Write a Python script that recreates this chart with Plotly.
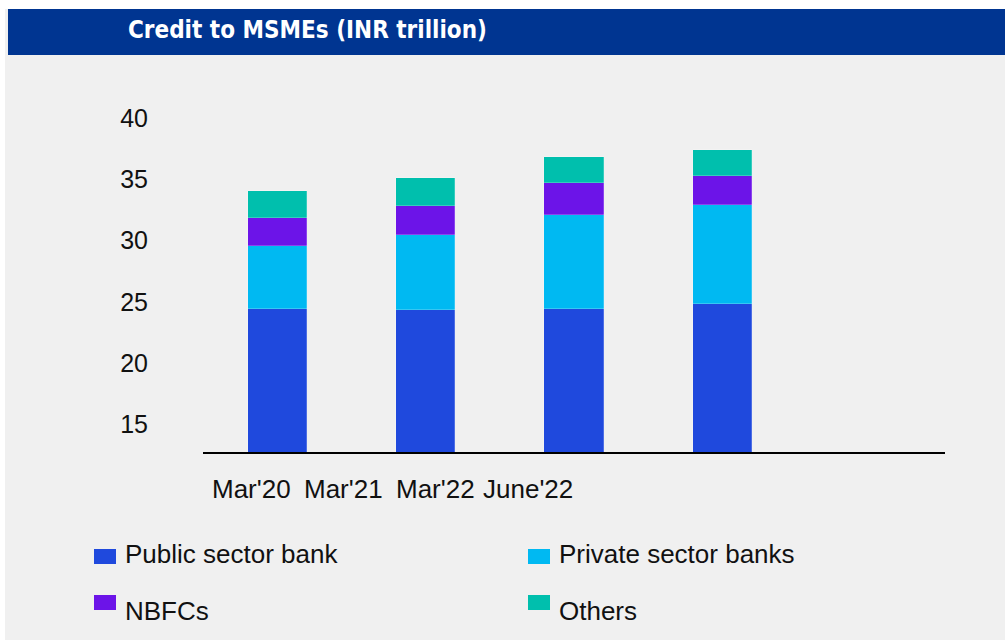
import plotly.graph_objects as go

# Credit to MSMEs by lender type, INR trillion
periods = ["Mar'20", "Mar'21", "Mar'22", "June'22"]
public_sector_bank = [24.4, 24.35, 24.4, 24.8]
private_sector_banks = [5.15, 6.1, 7.7, 8.1]
nbfcs = [2.3, 2.4, 2.65, 2.4]
others = [2.2, 2.26, 2.1, 2.1]

series = [
    ("Public sector bank", public_sector_bank, "#1f49dd"),
    ("Private sector banks", private_sector_banks, "#00b9f2"),
    ("NBFCs", nbfcs, "#6c14e8"),
    ("Others", others, "#00bfad"),
]
y_ticks = [15, 20, 25, 30, 35, 40]

W, H = 1005, 640
L, R, T, B = 203, 945, 100, 452
FONT = "Liberation Sans, Arial, sans-serif"


def px_x(px):
    return (px - L) / (R - L)


def px_y(py):
    return (B - py) / (B - T)


fig = go.Figure()
xpos = list(range(len(periods)))
for name, vals, color in series:
    fig.add_trace(go.Bar(
        x=xpos, y=vals, name=name, width=0.4,
        marker=dict(color=color, line=dict(color="rgba(255,255,255,0.35)", width=0.6)),
        showlegend=False,
    ))

shapes = [
    # page background strips and header band
    dict(type="rect", xref="paper", yref="paper", x0=px_x(0), x1=px_x(W), y0=px_y(0), y1=px_y(9),
         fillcolor="white", line=dict(width=0), layer="below"),
    dict(type="rect", xref="paper", yref="paper", x0=px_x(0), x1=px_x(5), y0=px_y(0), y1=px_y(H),
         fillcolor="white", line=dict(width=0), layer="below"),
    dict(type="rect", xref="paper", yref="paper", x0=px_x(8), x1=px_x(W), y0=px_y(9), y1=px_y(55),
         fillcolor="#003591", line=dict(width=0), layer="below"),
]

annotations = [
    dict(text="<b>Credit to MSMEs (INR trillion)</b>", xref="paper", yref="paper",
         x=px_x(126), y=px_y(30), xanchor="left", yanchor="middle", showarrow=False,
         font=dict(family="DejaVu Sans Condensed, DejaVu Sans, sans-serif", size=24, color="white")),
]

# category labels, packed beneath the first bars
label_start, label_step = 251.5, 92
for i, lab in enumerate(periods):
    annotations.append(dict(
        text=lab, xref="paper", yref="paper", x=px_x(label_start + i * label_step), y=px_y(489),
        xanchor="center", yanchor="middle", showarrow=False,
        font=dict(family=FONT, size=26, color="#111111")))

# two-column legend
legend_cols = [94, 528]
legend_rows = [(549, 554), (595, 611)]  # (swatch top, text centre)
for k, (name, vals, color) in enumerate(series):
    cx = legend_cols[k % 2]
    sy, ty = legend_rows[k // 2]
    shapes.append(dict(type="rect", xref="paper", yref="paper",
                       x0=px_x(cx), x1=px_x(cx + 22), y0=px_y(sy + 15), y1=px_y(sy),
                       fillcolor=color, line=dict(width=0)))
    annotations.append(dict(text=name, xref="paper", yref="paper", x=px_x(cx + 29), y=px_y(ty),
                            xanchor="left", yanchor="middle", showarrow=False,
                            font=dict(family=FONT, size=26, color="#111111")))

fig.update_layout(
    width=W, height=H,
    margin=dict(l=L, r=W - R, t=T, b=H - B, pad=0),
    paper_bgcolor="#f0f0f0", plot_bgcolor="rgba(0,0,0,0)",
    barmode="stack", bargap=0,
    shapes=shapes, annotations=annotations,
    xaxis=dict(range=[-0.5, 4.5], showticklabels=False, ticks="", showgrid=False, zeroline=False,
               showline=True, linecolor="black", linewidth=1.5, fixedrange=True),
    yaxis=dict(range=[12.73, 41.5], tickvals=y_ticks, ticks="", showgrid=False, zeroline=False,
               showline=False, ticklabelstandoff=54,
               tickfont=dict(family=FONT, size=25, color="#111111")),
)

fig.write_html("out.html")
